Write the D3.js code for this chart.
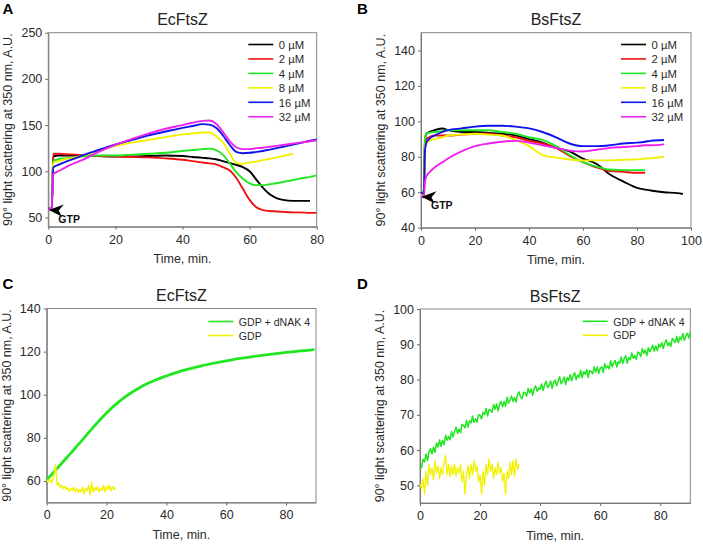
<!DOCTYPE html>
<html>
<head>
<meta charset="utf-8">
<script src="https://cdn.jsdelivr.net/npm/d3@7"></script>
<style>
body { margin: 0; background: #fff; }
text { font-family: Arial, "Liberation Sans", sans-serif; }
</style>
</head>
<body>
<div id="chart"></div>
<script>
// ---- panel A : EcFtsZ + GTP, dNAK concentrations ----
var timeA = [0,1,1.5,3,5,8,10,15,20,25,30,35,40,43,46,48,50,52,54,56,58,60,62,64,66,68,70,73,75,78,80];
var a0  = [60,59,116,117,117,117,117,116.5,116,116,116.5,117,116.5,115.5,114.5,114,113,111,109,107,104.5,100,91,82,75,71,69,68,68,68,null];
var a2  = [60,59,119,119,118.5,118,117.5,116.5,116,115.5,115,114,112.5,111,109.5,108.5,107.5,104.5,101,93,81,69,61,58,57,56.5,56,55.5,55.5,55,55];
var a4  = [60,59,111,113,114,115,116,117,117,118,119,120,122,123,124,124.5,123,118,109,99,92,87,85,85,86,87,88.5,90.5,92,94,95.5];
var a8  = [60,59,109,111,113,115,117,122,127.5,131,134,137,140,141,142,142,138,131.5,120,109,108,109.5,110.5,112,113.5,115,116.5,119,null,null,null];
var a16 = [60,59,104,107,110,114,117,123,129,134,139,143,147,149,151,150.5,147,139,129,121,119.5,120,121,122,123.5,125,126.5,129,130.5,133,134.5];
var a32 = [60,59,97,100,104,109,112,121,128.5,135,141,146,150,152.5,154.5,155,151.5,143,133,126,124,124,125,125.5,126.5,127.5,128.5,130,131,132.5,133.5];

// ---- panel B : BsFtsZ + GTP ----
var timeB = [0,1,1.5,2,3,5,8,10,15,20,25,30,35,40,45,50,55,60,65,70,75,80,83,85,90,95,97];
var b0  = [60,59,90,93,94,95,96,95,94,94,93.5,93,92,90,88,85,83,79,76,70,66,62.5,61.5,61,60,59.5,59];
var b2  = [60,59,88,90,91,92,92,92,92.5,93,93,92,91,89,87.5,85,80.5,77,74,72,71.5,71,71,null,null,null,null];
var b4  = [61,60,91,93,93.5,94,94.5,95,95,95,95,94,93,91,89.5,86,81,77,74.5,72.8,72.5,72.5,72.5,null,null,null,null];
var b8  = [59,58,85,88,89,90,91,92,92.5,93,92.5,92,89.5,86,81,79.5,78.5,78,78,78,78.3,78.6,79,79.2,80,null,null];
var b16 = [60,59,84,88,90,92,94,95,96,97,97.5,97.5,97,96,94,91,87.5,86,86,86.5,87.5,88,88.5,89,89.5,null,null];
var b32 = [58,57,66,69,71,74,77,79,83,86,87.5,88.5,89,88,86.5,85,83.5,83,84,85,85.5,86,86.5,86.5,87,null,null];

var concLabels = ["0 \u00b5M","2 \u00b5M","4 \u00b5M","8 \u00b5M","16 \u00b5M","32 \u00b5M"];
var concColors = ["#000000","#ee1111","#22e622","#f2f200","#1111ee","#ee22ee"];

// ---- panel C : EcFtsZ + GDP ----
var timeCg = [0,2,4,6,8,10,12,14,16,18,20,22,24,26,28,30,32,34,36,38,40,42,44,46,48,50,52,54,56,58,60,62,64,66,68,70,72,74,76,78,80,82,84,86,88,89.5];
var cDnak = [60.5,63.5,66.6,69.7,72.8,76,79.2,82.4,85.6,88.6,91.5,94.2,96.6,98.8,100.7,102.4,104,105.4,106.6,107.7,108.7,109.7,110.6,111.4,112.1,112.8,113.5,114.1,114.7,115.2,115.7,116.2,116.7,117.1,117.5,117.9,118.3,118.6,119,119.3,119.6,119.9,120.2,120.4,120.7,121];
var timeCy = d3.range(0, 23.01, 0.5);
var cGdp = [60.5,59.5,61,59,60.5,63,67.5,58,59,57,58,56.5,57.5,56,57,55,56.5,55.5,57,55,56.5,54.5,56,55,57,54,56.5,55.5,58,53.5,59.5,55,57,55.5,57.5,55,56.5,55.5,58,55,57.5,56,58,55.5,57.5,56,57];

// ---- panel D : BsFtsZ + GDP ----
var timeDg = d3.range(0, 90.01, 0.5);
var dDnak = [55.1,55.0,57.4,56.6,58.9,57.0,59.5,60.4,58.9,60.8,59.4,62.0,60.9,62.9,61.1,62.7,61.5,64.2,62.8,63.9,62.9,
             65.3,63.7,65.3,66.5,64.7,66.0,64.9,67.3,67.0,66.3,68.45,66.5,68.35,67.7,69.65,67.9,68.85,67.9,70.05,69.9,
             68.85,70.7,70.05,71.8,69.65,71.5,71.35,70.7,72.95,71.6,73.1,71.1,72.9,73.8,72.3,73.8,72.4,75.0,73.3,74.2,
             75.3,73.8,74.9,73.6,75.8,76.5,75.0,74.6,76.4,76.2,75.25,77.5,76.2,77.35,75.55,77.4,78.2,76.65,77.65,77.2,
             78.75,76.9,78.6,79.5,77.75,78.3,79.6,77.5,79.25,79.8,78.25,79.5,80.8,78.8,79.55,80.7,78.6,80.6,79.75,81.4,
             79.65,81.0,81.95,79.9,81.3,80.6,82.65,80.5,82.25,81.5,82.8,80.6,82.55,82.3,81.6,83.6,82.15,83.5,81.7,83.2,
             83.65,82.0,84.45,83.2,83.9,83.0,85.35,83.6,84.75,85.4,83.55,85.1,84.6,86.4,84.55,86.0,86.7,84.6,86.25,85.6,
             87.55,86.0,86.75,85.7,87.8,87.5,86.45,88.8,87.45,88.4,86.75,89.0,87.9,88.7,89.75,88.0,89.5,88.2,90.05,89.2,
             90.45,88.8,90.35,91.3,89.55,90.5,89.35,91.6,91.15,90.5,92.25,90.4,92.05,91.3,93.05,91.1,92.25,93.1,91.75,93.5];
var timeDy = d3.range(0, 33.01, 0.5);
var dGdp = [50.5,49,52,47.5,54,50,56,53,55,51.5,57,53.5,55.5,52,55,53,56.5,58.5,53,56,52.5,55.5,53,56,52.5,55,53.5,56,51,54,
            47.5,53,55.5,52,56,53,57,54,55.5,51,53,47.5,54,50,56,53,57.5,54,56,52,55,53,56.5,53.5,55,51,53.5,47.5,54,52,
            56.5,53,57,52.5,57.5,54.5,56];

var gdpLabels = ["GDP + dNAK 4","GDP"];
var gdpColors = ["#22e622","#f2f200"];

var xTicksA = [0,20,40,60,80], yTicksA = [50,100,150,200,250];
var xTicksB = [0,20,40,60,80,100], yTicksB = [40,60,80,100,120,140];
var xTicksC = [0,20,40,60,80], yTicksC = [60,80,100,120,140];
var xTicksD = [0,20,40,60,80], yTicksD = [50,60,70,80,90,100];

var W = 703, H = 546;
var svg = d3.select('#chart').append('svg')
    .attr('width', W)
    .attr('height', H);

var yLabel = "90\u00b0 light scattering at 350 nm, A.U.";

var panels = [
  {letter:'A', title:'EcFtsZ', left:48.3, top:32.7, w:268.4, h:194, xd:[0,80], yd:[40,250], xt:xTicksA, yt:yTicksA,
   series:[[timeA,a0],[timeA,a2],[timeA,a4],[timeA,a8],[timeA,a16],[timeA,a32]], colors:concColors, labels:concLabels,
   legX:200, legY:11.8, legFont:11.3, gtp:[0,58], curve:true, sw:1.9},
  {letter:'B', title:'BsFtsZ', left:421, top:32.7, w:270, h:195, xd:[0,100], yd:[40,150], xt:xTicksB, yt:yTicksB,
   series:[[timeB,b0],[timeB,b2],[timeB,b4],[timeB,b8],[timeB,b16],[timeB,b32]], colors:concColors, labels:concLabels,
   legX:200, legY:11.8, legFont:11.3, gtp:[0,57.5], curve:true, sw:1.9},
  {letter:'C', title:'EcFtsZ', left:46.7, top:308.5, w:269.3, h:194, xd:[0,90], yd:[50,140], xt:xTicksC, yt:yTicksC,
   series:[[timeCg,cDnak],[timeCy,cGdp]], colors:gdpColors, labels:gdpLabels,
   legX:161.6, legY:13, legFont:10.6, gtp:null, curve:true, sw:[2.8,1.4]},
  {letter:'D', title:'BsFtsZ', left:420, top:309, w:270.3, h:194, xd:[0,90], yd:[45,100], xt:xTicksD, yt:yTicksD,
   series:[[timeDg,dDnak],[timeDy,dGdp]], colors:gdpColors, labels:gdpLabels,
   legX:162.7, legY:12.3, legFont:10.6, gtp:null, curve:false, sw:[1.5,1.3]}
];

panels.forEach(function(p, pi) {
  var g = svg.append('g').attr('transform', `translate(${p.left},${p.top})`);
  var x = d3.scaleLinear().domain(p.xd).range([0, p.w]);
  var y = d3.scaleLinear().domain(p.yd).range([p.h, 0]);

  g.append('clipPath').attr('id', 'clip' + pi)
    .append('rect').attr('width', p.w).attr('height', p.h);

  // axes
  var xa = g.append('g').attr('transform', `translate(0,${p.h})`)
    .call(d3.axisBottom(x).tickValues(p.xt).tickSize(3).tickSizeOuter(0).tickPadding(5));
  var ya = g.append('g')
    .call(d3.axisLeft(y).tickValues(p.yt).tickSize(3).tickSizeOuter(0).tickPadding(3));
  [xa, ya].forEach(function(a) {
    a.selectAll('path,line').attr('stroke', '#666');
    a.selectAll('text').attr('font-size', '12.5px').attr('fill', '#2a2a2a')
      .attr('font-family', 'Arial, "Liberation Sans", sans-serif');
  });

  // frame
  g.append('rect').attr('width', p.w).attr('height', p.h)
    .attr('fill', 'none').attr('stroke', '#888').attr('stroke-width', 1);

  // traces
  var lines = g.append('g').attr('clip-path', `url(#clip${pi})`);
  p.series.forEach(function(s, i) {
    var pts = s[0].map(function(t, k) { return [t, s[1][k]]; });
    var curved = p.curve && !(pi === 2 && i === 1);
    var line = d3.line()
      .defined(function(d) { return d[1] != null; })
      .x(function(d) { return x(d[0]); })
      .y(function(d) { return y(d[1]); })
      .curve(curved ? d3.curveMonotoneX : d3.curveLinear);
    lines.append('path')
      .datum(pts)
      .attr('d', line)
      .attr('fill', 'none')
      .attr('stroke', p.colors[i])
      .attr('stroke-width', Array.isArray(p.sw) ? p.sw[i] : p.sw)
      .attr('stroke-linejoin', 'round');
  });

  // legend
  var leg = g.append('g').attr('transform', `translate(${p.legX},${p.legY})`);
  p.labels.forEach(function(lab, i) {
    var ly = i * (p.labels.length > 2 ? 14.45 : 14);
    leg.append('line').attr('x1', 0).attr('x2', 25).attr('y1', ly).attr('y2', ly)
      .attr('stroke', p.colors[i]).attr('stroke-width', 1.6);
    leg.append('text').attr('x', 30.5).attr('y', ly + 4.2).attr('font-size', p.legFont + 'px')
      .attr('fill', '#2a2a2a').text(lab);
  });

  // GTP arrow
  if (p.gtp) {
    var tx = x(p.gtp[0]) + 0.5, ty = y(p.gtp[1]);
    g.append('path')
      .attr('d', `M${tx},${ty} L${tx + 15},${ty - 5.5} L${tx + 10},${ty + 0.5} L${tx + 13},${ty + 6.5} Z`)
      .attr('fill', '#000');
    g.append('text').attr('x', tx + 9.5).attr('y', ty + 12.5)
      .attr('font-size', '10.5px').attr('font-weight', 'bold').attr('fill', '#111').text('GTP');
  }

  // title, axis labels
  g.append('text').attr('x', p.w / 2).attr('y', -7.5).attr('text-anchor', 'middle')
    .attr('font-size', '16px').attr('fill', '#222').text(p.title);
  g.append('text').attr('x', p.w / 2).attr('y', p.h + 36.5).attr('text-anchor', 'middle')
    .attr('font-size', '12.5px').attr('fill', '#2a2a2a').text('Time, min.');
  g.append('text')
    .attr('transform', `translate(${-36},${p.h / 2}) rotate(-90)`)
    .attr('text-anchor', 'middle')
    .attr('font-size', '12.5px').attr('fill', '#2a2a2a').text(yLabel);

  // panel letter
  svg.append('text').attr('x', pi % 2 ? 357 : 2.5).attr('y', pi < 2 ? 14 : 288.5)
    .attr('font-size', '15px').attr('font-weight', 'bold').attr('fill', '#000').text(p.letter);
});
</script>
</body>
</html>
